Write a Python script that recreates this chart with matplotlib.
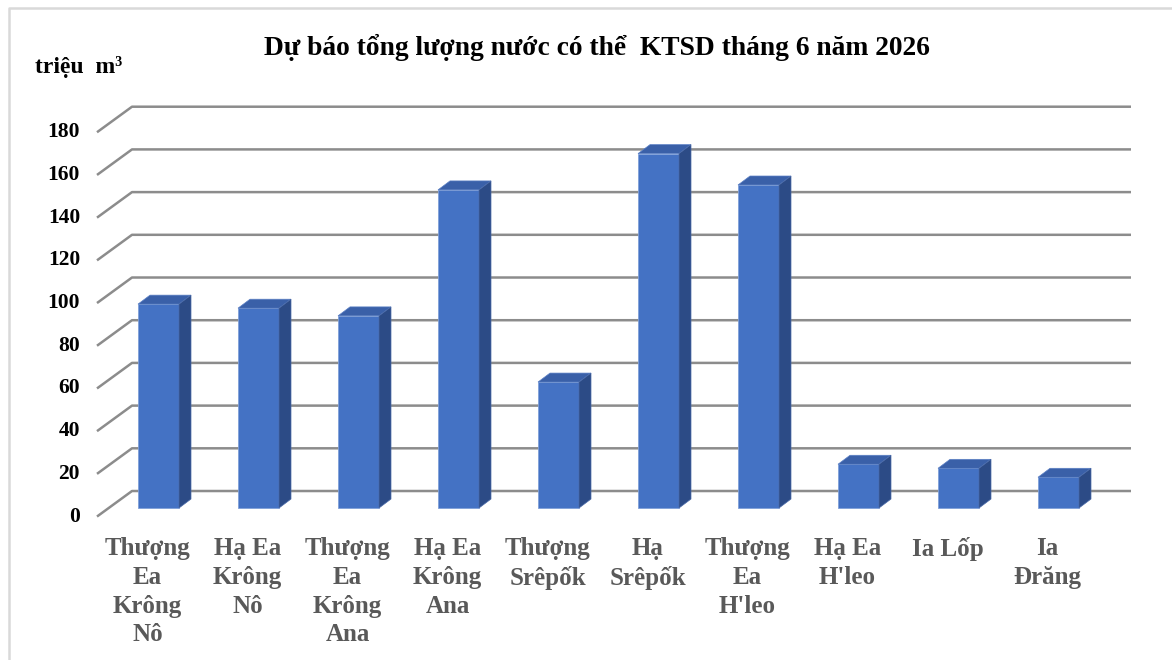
import matplotlib
matplotlib.use("Agg")
import matplotlib.pyplot as plt
from matplotlib.patches import Polygon
import numpy as np

# data
categories = ["Thượng\nEa\nKrông\nNô", "Hạ Ea\nKrông\nNô", "Thượng\nEa\nKrông\nAna",
              "Hạ Ea\nKrông\nAna", "Thượng\nSrêpốk", "Hạ\nSrêpốk", "Thượng\nEa\nH'leo",
              "Hạ Ea\nH'leo", "Ia Lốp", "Ia\nĐrăng"]
values = [95.5, 93.6, 90.0, 149.0, 59.0, 166.0, 151.3, 20.5, 18.6, 14.4]
yticks = [0, 20, 40, 60, 80, 100, 120, 140, 160, 180]
title = "Dự báo tổng lượng nước có thể  KTSD tháng 6 năm 2026"
unit = "triệu  m³"

plt.rcParams['font.family'] = ['Liberation Serif', 'DejaVu Serif']

fig = plt.figure(figsize=(11.72, 6.6), dpi=100)
ax = fig.add_axes([0, 0, 1, 1])
# 1 x unit = 100 px, 1 y unit = 2.135 px
ax.set_xlim(-1.585, 10.135)
ax.set_ylim(-71.19, 237.94)
ax.axis('off')

# 3D offsets (data units)
back_dy = 7.96
front_dy = -4.0
x_back_l, x_front_l, x_back_r = -0.265, -0.615, 9.725
bar_w = 0.41
dep_x, dep_y = 0.12, 4.2

grid_c = '#8c8c8c'
for v in yticks:
    ax.plot([x_front_l, x_back_l, x_back_r], [v + front_dy, v + back_dy, v + back_dy],
            color=grid_c, lw=1.8, zorder=1, solid_capstyle='butt')
    ax.text(-0.785, v + front_dy, str(v), ha='right', va='center',
            fontsize=15.5, fontweight='bold', color='black')

x = np.arange(len(values))
ax.bar(x, values, width=bar_w, color='#4472c4', edgecolor='#7f9fd8', linewidth=0.6, zorder=3)
for xi, v in zip(x, values):
    l, r = xi - bar_w / 2, xi + bar_w / 2
    top = Polygon([(l, v), (r, v), (r + dep_x, v + dep_y), (l + dep_x, v + dep_y)],
                  closed=True, facecolor='#3a60a8', edgecolor='#5a7fc4', lw=0.5, zorder=3)
    side = Polygon([(r, 0), (r + dep_x, dep_y), (r + dep_x, v + dep_y), (r, v)],
                   closed=True, facecolor='#2c4b86', edgecolor='#4a6aa8', lw=0.5, zorder=3)
    ax.add_patch(top)
    ax.add_patch(side)

for xi, lab in zip(x, categories):
    ax.text(xi - 0.11, -13.8, lab, ha='center', va='top', fontsize=18,
            fontweight='bold', color='#595959', linespacing=1.31)

ax.text(4.385, 215.5, title, ha='center', va='center', fontsize=19.8, fontweight='bold')
ax.text(-1.235, 206.6, unit, ha='left', va='center', fontsize=17, fontweight='bold')

# chart frame (left and top edges)
ax.plot([-1.495, -1.495, 10.135], [-71.19, 234.2, 234.2], color='#d9d9d9', lw=1.8,
        clip_on=False, zorder=0)

fig.savefig("out.png", dpi=100)
